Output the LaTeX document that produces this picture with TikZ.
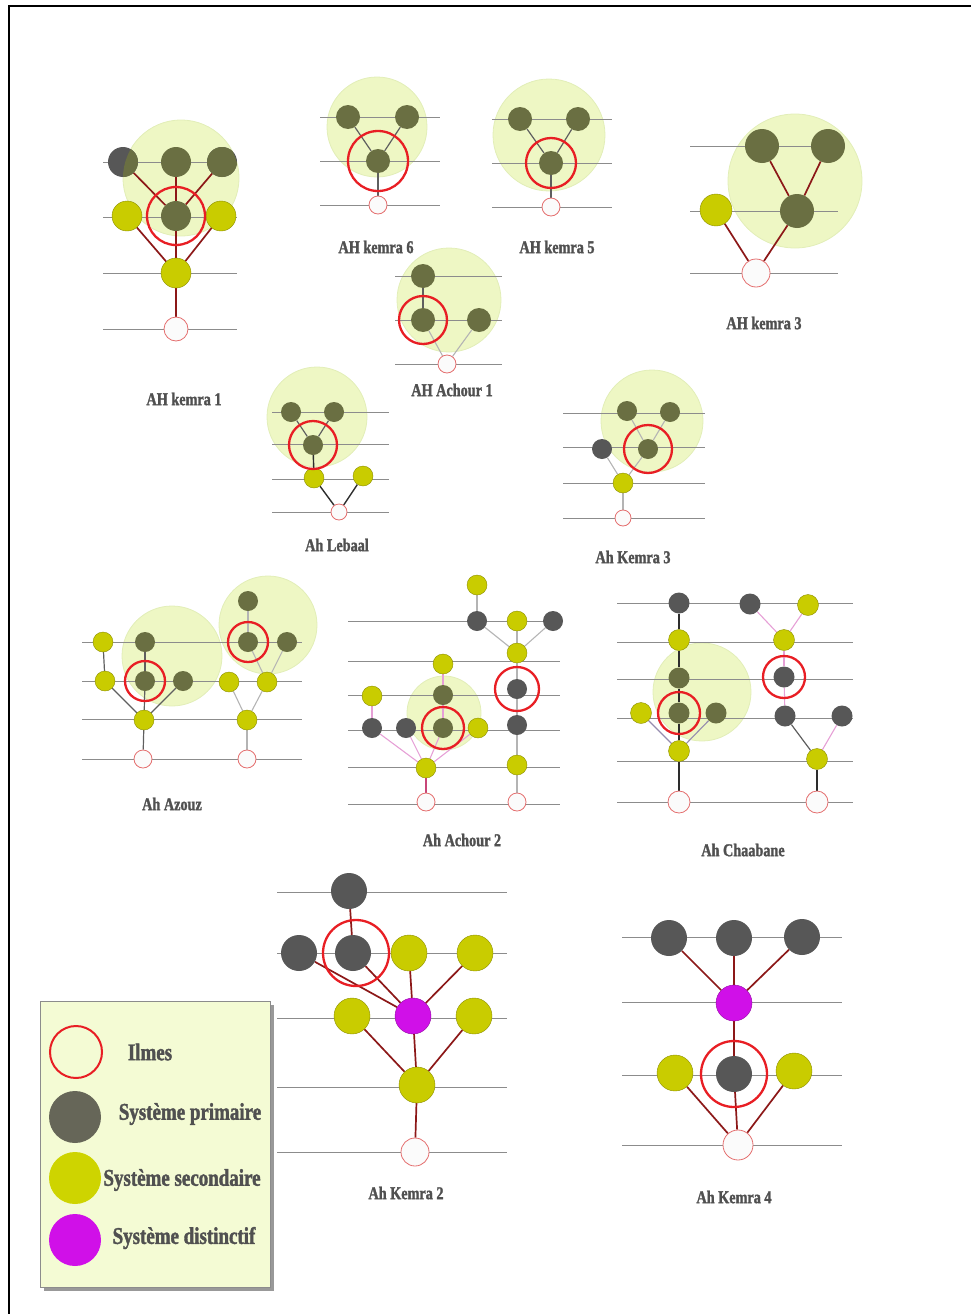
\documentclass[tikz,border=0pt]{standalone}
\usepackage{fontspec}
\newfontfamily\labfont{Liberation Serif Bold}[FakeStretch=0.79, FakeBold=1.6]

\pgfdeclarelayer{halos}
\pgfdeclarelayer{links}
\pgfsetlayers{halos,links,main}

\definecolor{primgray}{RGB}{87,87,87}
\definecolor{oliveprim}{RGB}{106,111,66}
\definecolor{secyellow}{RGB}{201,204,0}
\definecolor{secborder}{RGB}{140,142,0}
\definecolor{distmag}{RGB}{208,16,232}
\definecolor{ilmesred}{RGB}{228,110,110}
\definecolor{ringred}{RGB}{232,30,36}
\definecolor{halogreen}{RGB}{238,247,196}
\definecolor{haloedge}{RGB}{226,238,184}
\definecolor{staffgray}{RGB}{140,140,140}
\definecolor{linkred}{RGB}{140,24,24}
\definecolor{linkgray}{RGB}{95,95,95}
\definecolor{linklight}{RGB}{180,180,180}
\definecolor{linkpink}{RGB}{230,160,214}
\definecolor{linkrose}{RGB}{200,70,120}
\definecolor{linkviolet}{RGB}{150,140,175}
\definecolor{linkdark}{RGB}{45,45,45}
\definecolor{labelgray}{RGB}{80,80,80}
\definecolor{legendbg}{RGB}{244,251,212}

\begin{document}
\begin{tikzpicture}[x=1pt, y=-1pt,
  prim/.style={circle, inner sep=0pt, minimum size=2*\noder, fill=primgray},
  primin/.style={prim, fill=oliveprim},
  sec/.style={circle, inner sep=0pt, minimum size=2*\noder, fill=secyellow, draw=secborder, line width=0.4},
  dist/.style={circle, inner sep=0pt, minimum size=2*\noder, fill=distmag, draw=distmag!70!black, line width=0.4},
  ilmes/.style={circle, inner sep=0pt, minimum size=2*\ilmesr, fill=white!97!gray, draw=ilmesred, line width=0.8},
  halo/.style={fill=halogreen, draw=haloedge, line width=0.8},
  ringline/.style={draw=ringred, line width=2.3},
  staff/.style={draw=staffgray, line width=0.9},
  redlink/.style={draw=linkred, line width=1.7},
  graylink/.style={draw=linkgray, line width=1.2},
  lightlink/.style={draw=linklight, line width=1.1},
  pinklink/.style={draw=linkpink, line width=1.1},
  roselink/.style={draw=linkrose, line width=1.3},
  violetlink/.style={draw=linkviolet, line width=1.1},
  darklink/.style={draw=linkdark, line width=1.4},
  titletext/.style={font=\labfont\fontsize{18}{18}\selectfont, text=labelgray},
  legendtext/.style={font=\labfont\fontsize{24}{24}\selectfont, text=labelgray}]

  % Page
  \useasboundingbox (0,0) rectangle (971,1314);
  \draw[line width=2] (9,1314) -- (9,6) -- (971,6);

  % AH kemra 1
  \begin{scope}[shift={(176,329)}]
    \def\noder{15} % Radius of the systems
    \def\ilmesr{12} % Radius of the ilmes
    \begin{pgfonlayer}{halos}
      \path[halo] (5,-151) circle (58);
    \end{pgfonlayer}
    \begin{pgfonlayer}{links}
      \draw[staff] (-73,-167) -- (61,-167);
      \draw[staff] (-73,-112) -- (61,-112);
      \draw[staff] (-73,-56) -- (61,-56);
      \draw[staff] (-73,0) -- (61,0);
    \end{pgfonlayer}

    \node[prim] (ka1a) at (-53,-167) {};
    \node[primin] (ka1b) at (0,-167) {};
    \node[prim] (ka1c) at (46,-167) {};
    \node[sec] (ka1d) at (-49,-113) {};
    \node[primin] (ka1e) at (0,-113) {};
    \node[sec] (ka1f) at (45,-113) {};
    \node[sec] (ka1g) at (0,-56) {};
    \node[ilmes] (ka1r) at (0,0) {};

    % Part of the primaries under the halo
    \begin{scope}
      \clip (5,-151) circle (58);
      \fill[oliveprim] (ka1a) circle (15) (ka1c) circle (15);
    \end{scope}

    \begin{pgfonlayer}{links}
      \draw[redlink] (ka1a) -- (ka1e);
      \draw[redlink] (ka1b) -- (ka1e);
      \draw[redlink] (ka1c) -- (ka1e);
      \draw[redlink] (ka1d) -- (ka1g);
      \draw[redlink] (ka1e) -- (ka1g);
      \draw[redlink] (ka1f) -- (ka1g);
      \draw[redlink] (ka1g) -- (ka1r);
    \end{pgfonlayer}
    \draw[ringline] (ka1e) circle (29);

    \node[titletext] (ka1t) at (8,70) {AH kemra 1};
  \end{scope}
  % AH kemra 1 END

  % AH kemra 6
  \begin{scope}[shift={(378,205)}]
    \def\noder{12}
    \def\ilmesr{9}
    \begin{pgfonlayer}{halos}
      \path[halo] (-1,-78) circle (50);
    \end{pgfonlayer}
    \begin{pgfonlayer}{links}
      \draw[staff] (-58,-88) -- (62,-88);
      \draw[staff] (-58,-44) -- (62,-44);
      \draw[staff] (-58,0) -- (62,0);
    \end{pgfonlayer}

    \node[primin] (ka6a) at (-30,-88) {};
    \node[primin] (ka6b) at (29,-88) {};
    \node[primin] (ka6c) at (0,-44) {};
    \node[ilmes] (ka6r) at (0,0) {};

    \begin{pgfonlayer}{links}
      \draw[graylink] (ka6a) -- (ka6c);
      \draw[graylink] (ka6b) -- (ka6c);
      \draw[graylink] (ka6c) -- (ka6r);
    \end{pgfonlayer}
    \draw[ringline] (ka6c) circle (30);

    \node[titletext] (ka6t) at (-2,42) {AH kemra 6};
  \end{scope}
  % AH kemra 6 END

  % AH kemra 5
  \begin{scope}[shift={(551,207)}]
    \def\noder{12}
    \def\ilmesr{9}
    \begin{pgfonlayer}{halos}
      \path[halo] (-2,-72) circle (56);
    \end{pgfonlayer}
    \begin{pgfonlayer}{links}
      \draw[staff] (-59,-88) -- (61,-88);
      \draw[staff] (-59,-44) -- (61,-44);
      \draw[staff] (-59,0) -- (61,0);
    \end{pgfonlayer}

    \node[primin] (ka5a) at (-31,-88) {};
    \node[primin] (ka5b) at (27,-88) {};
    \node[primin] (ka5c) at (0,-44) {};
    \node[ilmes] (ka5r) at (0,0) {};

    \begin{pgfonlayer}{links}
      \draw[graylink] (ka5a) -- (ka5c);
      \draw[graylink] (ka5b) -- (ka5c);
      \draw[graylink] (ka5c) -- (ka5r);
    \end{pgfonlayer}
    \draw[ringline] (ka5c) circle (25);

    \node[titletext] (ka5t) at (6,40) {AH kemra 5};
  \end{scope}
  % AH kemra 5 END

  % AH kemra 3
  \begin{scope}[shift={(756,273)}]
    \def\noder{17}
    \def\ilmesr{14}
    \begin{pgfonlayer}{halos}
      \path[halo] (39,-92) circle (67);
    \end{pgfonlayer}
    \begin{pgfonlayer}{links}
      \draw[staff] (-66,-127) -- (82,-127);
      \draw[staff] (-66,-62) -- (82,-62);
      \draw[staff] (-66,0) -- (82,0);
    \end{pgfonlayer}

    \node[primin] (ka3a) at (6,-127) {};
    \node[primin] (ka3b) at (72,-127) {};
    \node[primin] (ka3c) at (41,-62) {};
    \node[sec, minimum size=32] (ka3d) at (-40,-63) {};
    \node[ilmes] (ka3r) at (0,0) {};

    \begin{pgfonlayer}{links}
      \draw[redlink] (ka3a) -- (ka3c);
      \draw[redlink] (ka3b) -- (ka3c);
      \draw[redlink] (ka3c) -- (ka3r);
      \draw[redlink] (ka3d) -- (ka3r);
    \end{pgfonlayer}

    \node[titletext] (ka3t) at (8,50) {AH kemra 3};
  \end{scope}
  % AH kemra 3 END

  % AH Achour 1
  \begin{scope}[shift={(447,364)}]
    \def\noder{12}
    \def\ilmesr{9}
    \begin{pgfonlayer}{halos}
      \path[halo] (2,-64) circle (52);
    \end{pgfonlayer}
    \begin{pgfonlayer}{links}
      \draw[staff] (-52,-88) -- (55,-88);
      \draw[staff] (-52,-44) -- (55,-44);
      \draw[staff] (-52,0) -- (55,0);
    \end{pgfonlayer}

    \node[primin] (ach1a) at (-24,-88) {};
    \node[primin] (ach1b) at (-24,-44) {};
    \node[primin] (ach1c) at (32,-44) {};
    \node[ilmes] (ach1r) at (0,0) {};

    \begin{pgfonlayer}{links}
      \draw[graylink] (ach1a) -- (ach1b);
      \draw[lightlink] (ach1b) -- (ach1r);
      \draw[lightlink] (ach1c) -- (ach1r);
    \end{pgfonlayer}
    \draw[ringline] (ach1b) circle (24);

    \node[titletext] (ach1t) at (5,26) {AH Achour 1};
  \end{scope}
  % AH Achour 1 END

  % Ah Lebaal
  \begin{scope}[shift={(339,512)}]
    \def\noder{10}
    \def\ilmesr{8}
    \begin{pgfonlayer}{halos}
      \path[halo] (-22,-95) circle (50);
    \end{pgfonlayer}
    \begin{pgfonlayer}{links}
      \draw[staff] (-67,-100) -- (50,-100);
      \draw[staff] (-67,-68) -- (50,-68);
      \draw[staff] (-67,-33) -- (50,-33);
      \draw[staff] (-67,0) -- (50,0);
    \end{pgfonlayer}

    \node[primin] (leba) at (-48,-100) {};
    \node[primin] (lebb) at (-5,-100) {};
    \node[primin] (lebc) at (-26,-67) {};
    \node[sec] (lebd) at (-25,-34) {};
    \node[sec] (lebe) at (24,-36) {};
    \node[ilmes] (lebr) at (0,0) {};

    \begin{pgfonlayer}{links}
      \draw[graylink] (leba) -- (lebc);
      \draw[graylink] (lebb) -- (lebc);
      \draw[darklink] (lebc) -- (lebd);
      \draw[darklink] (lebd) -- (lebr);
      \draw[darklink] (lebe) -- (lebr);
    \end{pgfonlayer}
    \draw[ringline] (lebc) circle (24);

    \node[titletext] (lebt) at (-2,33) {Ah Lebaal};
  \end{scope}
  % Ah Lebaal END

  % Ah Kemra 3
  \begin{scope}[shift={(623,518)}]
    \def\noder{10}
    \def\ilmesr{8}
    \begin{pgfonlayer}{halos}
      \path[halo] (29,-97) circle (51);
    \end{pgfonlayer}
    \begin{pgfonlayer}{links}
      \draw[staff] (-60,-105) -- (82,-105);
      \draw[staff] (-60,-71) -- (82,-71);
      \draw[staff] (-60,-35) -- (82,-35);
      \draw[staff] (-60,0) -- (82,0);
    \end{pgfonlayer}

    \node[primin] (kh3a) at (4,-107) {};
    \node[primin] (kh3b) at (47,-106) {};
    \node[primin] (kh3c) at (25,-69) {};
    \node[prim] (kh3d) at (-21,-69) {};
    \node[sec] (kh3e) at (0,-35) {};
    \node[ilmes] (kh3r) at (0,0) {};

    \begin{pgfonlayer}{links}
      \draw[lightlink] (kh3a) -- (kh3c);
      \draw[lightlink] (kh3b) -- (kh3c);
      \draw[lightlink] (kh3c) -- (kh3e);
      \draw[lightlink] (kh3d) -- (kh3e);
      \draw[lightlink] (kh3e) -- (kh3r);
    \end{pgfonlayer}
    \draw[ringline] (kh3c) circle (24);

    \node[titletext] (kh3t) at (10,39) {Ah Kemra 3};
  \end{scope}
  % Ah Kemra 3 END

  % Ah Azouz
  \begin{scope}[shift={(143,759)}]
    \def\noder{10}
    \def\ilmesr{9}
    \begin{pgfonlayer}{halos}
      \path[halo] (29,-103) circle (50);
      \path[halo] (125,-134) circle (49);
    \end{pgfonlayer}
    \begin{pgfonlayer}{links}
      \draw[staff] (-61,-117) -- (159,-117);
      \draw[staff] (-61,-78) -- (159,-78);
      \draw[staff] (-61,-40) -- (159,-40);
      \draw[staff] (-61,0) -- (159,0);
    \end{pgfonlayer}

    % Azouz1
    \node[sec] (aza) at (-40,-117) {};
    \node[primin] (azb) at (2,-117) {};
    \node[sec] (azc) at (-38,-78) {};
    \node[primin] (azd) at (2,-78) {};
    \node[primin] (aze) at (40,-78) {};
    \node[sec] (azf) at (1,-39) {};
    \node[ilmes] (azr) at (0,0) {};

    % Azouz2
    \node[primin] (azg) at (105,-158) {};
    \node[primin] (azh) at (105,-117) {};
    \node[primin] (azi) at (144,-117) {};
    \node[sec] (azj) at (86,-77) {};
    \node[sec] (azk) at (124,-77) {};
    \node[sec] (azl) at (104,-39) {};
    \node[ilmes] (azs) at (104,0) {};

    \begin{pgfonlayer}{links}
      \draw[graylink] (aza) -- (azc);
      \draw[graylink] (azb) -- (azd);
      \draw[graylink] (azc) -- (azf);
      \draw[graylink] (azd) -- (azf);
      \draw[graylink] (aze) -- (azf);
      \draw[graylink] (azf) -- (azr);
      \draw[lightlink] (azg) -- (azh);
      \draw[lightlink] (azh) -- (azk);
      \draw[lightlink] (azi) -- (azk);
      \draw[lightlink] (azj) -- (azl);
      \draw[lightlink] (azk) -- (azl);
      \draw[lightlink] (azl) -- (azs);
    \end{pgfonlayer}
    \draw[ringline] (azd) circle (20);
    \draw[ringline] (azh) circle (20);

    \node[titletext] (azt) at (29,45) {Ah Azouz};
  \end{scope}
  % Ah Azouz END

  % Ah Achour 2
  \begin{scope}[shift={(426,802)}]
    \def\noder{10}
    \def\ilmesr{9}
    \begin{pgfonlayer}{halos}
      \path[halo] (18,-89) circle (37);
    \end{pgfonlayer}
    \begin{pgfonlayer}{links}
      \draw[staff] (-78,-181) -- (134,-181);
      \draw[staff] (-78,-141) -- (134,-141);
      \draw[staff] (-78,-107) -- (134,-107);
      \draw[staff] (-78,-72) -- (134,-72);
      \draw[staff] (-78,-35) -- (134,-35);
      \draw[staff] (-78,2) -- (134,2);
    \end{pgfonlayer}

    % Achour2 left
    \node[sec] (acha) at (17,-138) {};
    \node[primin] (achb) at (17,-107) {};
    \node[primin] (achc) at (17,-74) {};
    \node[sec] (achd) at (-54,-106) {};
    \node[prim] (ache) at (-54,-74) {};
    \node[prim] (achf) at (-20,-74) {};
    \node[sec] (achg) at (52,-74) {};
    \node[sec] (achh) at (0,-34) {};
    \node[ilmes] (achr) at (0,0) {};

    % Achour2 right
    \node[sec] (achi) at (51,-217) {};
    \node[prim] (achj) at (51,-181) {};
    \node[sec] (achk) at (91,-181) {};
    \node[prim] (achl) at (127,-181) {};
    \node[sec] (achm) at (91,-149) {};
    \node[prim] (achn) at (91,-113) {};
    \node[prim] (acho) at (91,-77) {};
    \node[sec] (achp) at (91,-37) {};
    \node[ilmes] (achs) at (91,0) {};

    \begin{pgfonlayer}{links}
      \draw[pinklink] (acha) -- (achb);
      \draw[pinklink] (achb) -- (achc);
      \draw[pinklink] (achd) -- (ache);
      \draw[pinklink] (ache) -- (achh);
      \draw[pinklink] (achf) -- (achh);
      \draw[pinklink] (achc) -- (achh);
      \draw[pinklink] (achg) -- (achh);
      \draw[roselink] (achh) -- (achr);
      \draw[lightlink] (achi) -- (achj);
      \draw[lightlink] (achj) -- (achm);
      \draw[lightlink] (achk) -- (achm);
      \draw[lightlink] (achl) -- (achm);
      \draw[lightlink] (achm) -- (achn);
      \draw[lightlink] (achn) -- (acho);
      \draw[lightlink] (acho) -- (achp);
      \draw[lightlink] (achp) -- (achs);
    \end{pgfonlayer}
    \draw[ringline] (achc) circle (21);
    \draw[ringline] (achn) circle (22);

    \node[titletext] (acht) at (36,38) {Ah Achour 2};
  \end{scope}
  % Ah Achour 2 END

  % Ah Chaabane
  \begin{scope}[shift={(679,802)}]
    \def\noder{10.5}
    \def\ilmesr{11}
    \begin{pgfonlayer}{halos}
      \path[halo] (23,-110) circle (49);
    \end{pgfonlayer}
    \begin{pgfonlayer}{links}
      \draw[staff] (-62,-199) -- (174,-199);
      \draw[staff] (-62,-160) -- (174,-160);
      \draw[staff] (-62,-123) -- (174,-123);
      \draw[staff] (-62,-84) -- (174,-84);
      \draw[staff] (-62,-41) -- (174,-41);
      \draw[staff] (-62,0) -- (174,0);
    \end{pgfonlayer}

    % Chaabane left
    \node[prim] (cha) at (0,-199) {};
    \node[sec] (chb) at (0,-162) {};
    \node[primin] (chc) at (0,-124) {};
    \node[primin] (chd) at (0,-89) {};
    \node[sec] (che) at (-38,-89) {};
    \node[primin] (chf) at (37,-89) {};
    \node[sec] (chg) at (0,-51) {};
    \node[ilmes] (chr) at (0,0) {};

    % Chaabane right
    \node[prim] (chi) at (71,-198) {};
    \node[sec] (chj) at (129,-197) {};
    \node[sec] (chk) at (105,-162) {};
    \node[prim] (chl) at (105,-125) {};
    \node[prim] (chm) at (106,-86) {};
    \node[prim] (chn) at (163,-86) {};
    \node[sec] (cho) at (138,-43) {};
    \node[ilmes] (chs) at (138,0) {};

    \begin{pgfonlayer}{links}
      \draw[darklink] (cha) -- (chb);
      \draw[darklink] (chb) -- (chc);
      \draw[darklink] (chc) -- (chd);
      \draw[darklink] (chd) -- (chg);
      \draw[darklink] (chg) -- (chr);
      \draw[violetlink] (che) -- (chg);
      \draw[violetlink] (chf) -- (chg);
      \draw[pinklink] (chi) -- (chk);
      \draw[pinklink] (chj) -- (chk);
      \draw[pinklink] (chk) -- (chl);
      \draw[pinklink] (chl) -- (chm);
      \draw[graylink] (chm) -- (cho);
      \draw[pinklink] (chn) -- (cho);
      \draw[darklink] (cho) -- (chs);
    \end{pgfonlayer}
    \draw[ringline] (chd) circle (21);
    \draw[ringline] (chl) circle (21);

    \node[titletext] (cht) at (64,48) {Ah Chaabane};
  \end{scope}
  % Ah Chaabane END

  % Ah Kemra 2
  \begin{scope}[shift={(415,1152)}]
    \def\noder{18}
    \def\ilmesr{14}
    \begin{pgfonlayer}{links}
      \draw[staff] (-138,-260) -- (92,-260);
      \draw[staff] (-138,-199) -- (92,-199);
      \draw[staff] (-138,-134) -- (92,-134);
      \draw[staff] (-138,-65) -- (92,-65);
      \draw[staff] (-138,0) -- (92,0);
    \end{pgfonlayer}

    \node[prim] (kh2a) at (-66,-261) {};
    \node[prim] (kh2b) at (-116,-199) {};
    \node[prim] (kh2c) at (-62,-199) {};
    \node[sec] (kh2d) at (-6,-199) {};
    \node[sec] (kh2e) at (60,-199) {};
    \node[sec] (kh2f) at (-63,-136) {};
    \node[dist] (kh2g) at (-2,-136) {};
    \node[sec] (kh2h) at (59,-136) {};
    \node[sec] (kh2i) at (2,-67) {};
    \node[ilmes] (kh2r) at (0,0) {};

    \begin{pgfonlayer}{links}
      \draw[redlink] (kh2a) -- (kh2c);
      \draw[redlink] (kh2b) -- (kh2g);
      \draw[redlink] (kh2c) -- (kh2g);
      \draw[redlink] (kh2d) -- (kh2g);
      \draw[redlink] (kh2e) -- (kh2g);
      \draw[redlink] (kh2f) -- (kh2i);
      \draw[redlink] (kh2g) -- (kh2i);
      \draw[redlink] (kh2h) -- (kh2i);
      \draw[redlink] (kh2i) -- (kh2r);
    \end{pgfonlayer}
    \draw[ringline] ([xshift=3pt]kh2c.center) circle (33);

    \node[titletext] (kh2t) at (-9,41) {Ah Kemra 2};
  \end{scope}
  % Ah Kemra 2 END

  % Ah Kemra 4
  \begin{scope}[shift={(738,1145)}]
    \def\noder{18}
    \def\ilmesr{15}
    \begin{pgfonlayer}{links}
      \draw[staff] (-116,-208) -- (104,-208);
      \draw[staff] (-116,-143) -- (104,-143);
      \draw[staff] (-116,-70) -- (104,-70);
      \draw[staff] (-116,0) -- (104,0);
    \end{pgfonlayer}

    \node[prim] (kh4a) at (-69,-207) {};
    \node[prim] (kh4b) at (-4,-207) {};
    \node[prim] (kh4c) at (64,-208) {};
    \node[dist] (kh4d) at (-4,-142) {};
    \node[sec] (kh4e) at (-63,-72) {};
    \node[prim] (kh4f) at (-4,-71) {};
    \node[sec] (kh4g) at (56,-74) {};
    \node[ilmes] (kh4r) at (0,0) {};

    \begin{pgfonlayer}{links}
      \draw[redlink] (kh4a) -- (kh4d);
      \draw[redlink] (kh4b) -- (kh4d);
      \draw[redlink] (kh4c) -- (kh4d);
      \draw[redlink] (kh4d) -- (kh4f);
      \draw[redlink] (kh4e) -- (kh4r);
      \draw[redlink] (kh4f) -- (kh4r);
      \draw[redlink] (kh4g) -- (kh4r);
    \end{pgfonlayer}
    \draw[ringline] (kh4f) circle (33);

    \node[titletext] (kh4t) at (-4,52) {Ah Kemra 4};
  \end{scope}
  % Ah Kemra 4 END

  % Legend
  \begin{scope}
    \def\noder{26}
    \fill[black!40] (44,1005) rectangle (274,1291);
    \filldraw[fill=legendbg, draw=black!45, line width=0.6] (40,1001) rectangle (270,1287);

    \node[circle, inner sep=0pt, minimum size=52, draw=ringred, line width=2] (lgil) at (76,1052) {};
    \node[prim, fill={rgb,255:red,102;green,102;blue,88}] (lgpr) at (75,1117) {};
    \node[circle, inner sep=0pt, minimum size=52, fill={rgb,255:red,206;green,212;blue,0}] (lgse) at (75,1178) {};
    \node[circle, inner sep=0pt, minimum size=52, fill=distmag] (lgdi) at (75,1240) {};

    \node[legendtext] (lgilt) at (150,1052) {Ilmes};
    \node[legendtext] (lgprt) at (190,1114) {Système primaire};
    \node[legendtext] (lgset) at (182,1180) {Système secondaire};
    \node[legendtext] (lgdit) at (184,1238) {Système distinctif};
  \end{scope}
  % Legend END
\end{tikzpicture}
\end{document}
